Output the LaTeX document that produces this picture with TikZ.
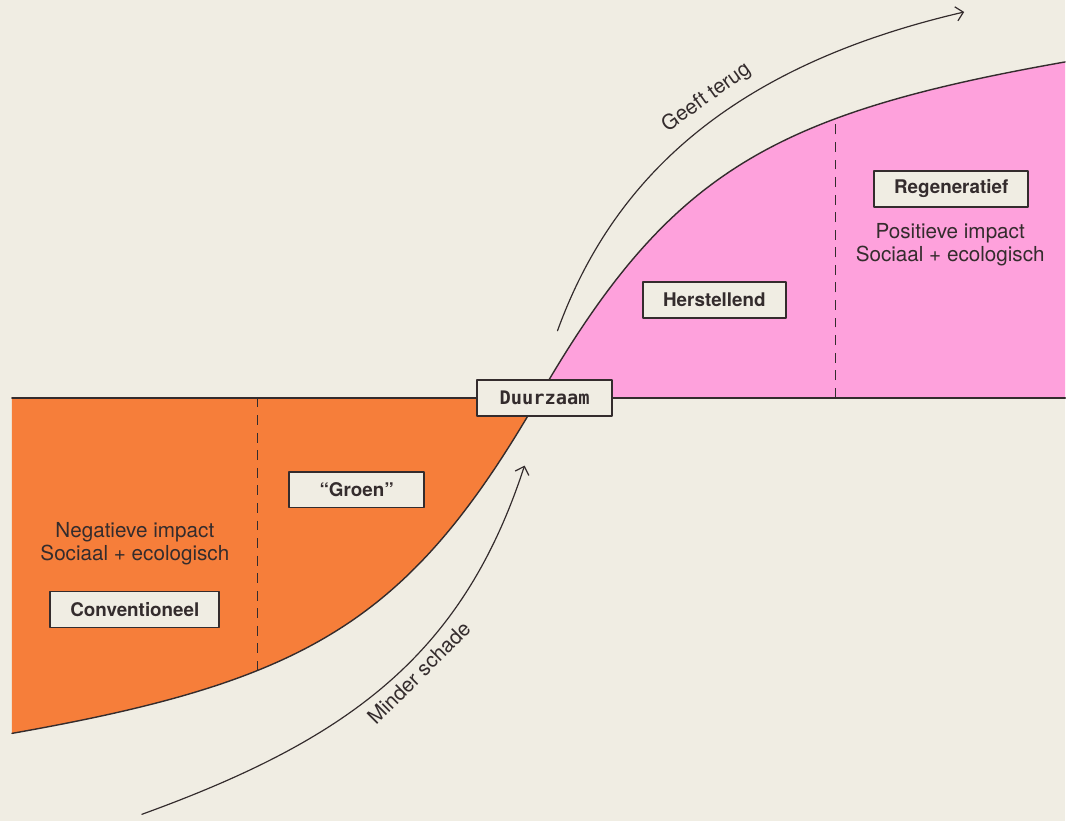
\documentclass[tikz,border=0pt]{standalone}
\usepackage{fontspec}
\setmainfont{TeX Gyre Heros}
\newfontfamily\duurfont{DejaVu Sans Mono}
\usetikzlibrary{arrows.meta}
\definecolor{papier}{HTML}{F0EDE3}
\definecolor{oranje}{HTML}{F67E3A}
\definecolor{roze}{HTML}{FEA1DC}
\definecolor{inkt}{HTML}{342C2D}
\tikzset{
	fase/.style={draw=inkt,line width=1.3pt,fill=papier,text=inkt,font=\fontsize{13.4}{16}\selectfont\bfseries,minimum width=3.375cm,minimum height=0.9cm,inner xsep=0.5cm},
	uitleg/.style={text=inkt,font=\fontsize{14.7}{16.4}\selectfont,align=center},
	pijl/.style={->,draw=inkt,line width=0.85pt},
	scheiding/.style={draw=inkt,line width=0.9pt,line cap=butt,dash pattern=on 7pt off 5.5pt}
}
\begin{document}
\begin{tikzpicture}[>={Straight Barb[length=1.8mm,width=3.6mm]},line join=round,line cap=round]
		\fill[papier] (-13.475,-10.6) rectangle (13.175,9.95);
		% vlakken onder en boven de lijn
		\fill[oranje] (-13.175,-8.4) .. controls (-5.7875,-7.095) and (-3.25,-5.625) .. (0,0) -- (-13.175,0) -- cycle;
		\fill[roze] (0,0) .. controls (3.25,5.625) and (5.7875,7.095) .. (13.175,8.4) -- (13.175,0) -- cycle;
		\begin{scope}
			\clip (-13.175,-8.4) .. controls (-5.7875,-7.095) and (-3.25,-5.625) .. (0,0) -- (-13.175,0) -- cycle;
			\draw[scheiding] (-7.025,0)--(-7.025,-10);
		\end{scope}
		\begin{scope}
			\clip (0,0) .. controls (3.25,5.625) and (5.7875,7.095) .. (13.175,8.4) -- (13.175,0) -- cycle;
			\draw[scheiding] (7.425,0)--(7.425,10);
		\end{scope}
		\draw[inkt,line width=1pt] (-13.175,-8.4) .. controls (-5.7875,-7.095) and (-3.25,-5.625) .. (0,0) .. controls (3.25,5.625) and (5.7875,7.095) .. (13.175,8.4);
		\draw[inkt,line width=1.3pt] (-13.175,0)--(13.175,0);
		% fases
		\node[fase] (conv) at (-10.1,-5.3) {Conventioneel};
		\node[fase] (groen) at (-4.55,-2.3) {“Groen”};
		\node[fase,font=\fontsize{13.3}{16}\selectfont\duurfont\bfseries] (duur) at (0.15,0) {Duurzaam};
		\node[fase] (herst) at (4.4,2.45) {Herstellend};
		\node[fase] (regen) at (10.325,5.225) {Regeneratief};
		\node[uitleg] (neg) at (-10.1,-3.65) {Negatieve impact\\Sociaal + ecologisch};
		\node[uitleg] (pos) at (10.3,3.825) {Positieve impact\\Sociaal + ecologisch};
		% pijlen
		\coordinate (ms0) at (-9.925,-10.425);
		\coordinate (ms1) at (-0.35,-1.7);
		\coordinate (gt0) at (0.475,1.675);
		\coordinate (gt1) at (10.65,9.65);
		\draw[pijl] (ms0) .. controls (-4.75,-8.55) and (-1.9,-6.45) .. (ms1) node[pos=0.56,sloped,below,uitleg,inner sep=4pt] (minder) {Minder schade};
		\draw[pijl] (gt0) .. controls (1.925,5.675) and (5.05,8.35) .. (gt1) node[pos=0.55,sloped,above,uitleg,inner sep=8pt] (terug) {Geeft terug};
\end{tikzpicture}
\end{document}
